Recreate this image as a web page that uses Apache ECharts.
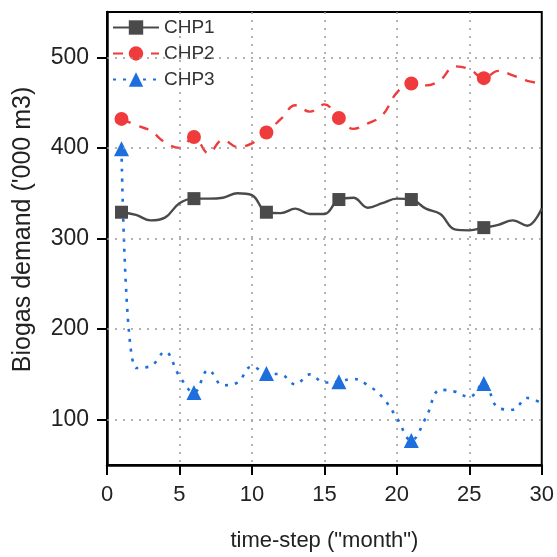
<!DOCTYPE html>
<html><head><meta charset="utf-8">
<script src="https://cdn.jsdelivr.net/npm/echarts@6/dist/echarts.min.js"></script>
<style>html,body{margin:0;padding:0;background:#fff}#c{width:557px;height:557px}</style>
</head><body><div id="c"></div>
<script>
const months = [1,2,3,4,5,6,7,8,9,10,11,12,13,14,15,16,17,18,19,20,21,22,23,24,25,26,27,28,29,30];
const chp1 = [329,326,320,323,339,344,344,345,350,348,329,328,333,327,327,343,345,334,339,344,343,333,327,310,309,312,315,320,314,333];
const chp2 = [432,425,419,406,400,412,394,409,401,405,417,432,447,440,448,433,421,427,436,461,471,469,475,490,487,477,485,480,474,471];
const chp3 = [399,157,159,175,148,130,155,138,141,159,151,150,139,150,141,142,145,138,125,102,77,102,133,131,125,140,113,111,124,118];
const markerMonths = [1,6,11,16,21,26];
const yTicks = [100,200,300,400,500];

const font = 'Liberation Sans, Arial, sans-serif';
function mk(vals, size){ return months.map((m,i)=>({value:[m, vals[i]], symbolSize: markerMonths.includes(m) ? size : 0})); }
const chart = echarts.init(document.getElementById('c'), null, {renderer:'canvas'});
chart.setOption({
  animation:false,
  backgroundColor:'#fff',
  grid:{left:107,right:15,top:12,bottom:89,show:true,borderColor:'#000',borderWidth:2,backgroundColor:'transparent'},
  legend:{
    left:112, top:18, padding:0, orient:'vertical', itemGap:7, itemWidth:46, itemHeight:18,
    textStyle:{fontFamily:font,fontSize:19,color:'#333'},
    data:['CHP1','CHP2','CHP3']
  },
  xAxis:{
    type:'value', min:0, max:30, interval:5,
    name:'time-step ("month")', nameLocation:'middle', nameGap:65,
    nameTextStyle:{fontFamily:font,fontSize:22,color:'#222'},
    axisLine:{show:true,lineStyle:{color:'#000',width:2.5}},
    axisTick:{show:true,inside:false,length:10,lineStyle:{color:'#000',width:2}},
    axisLabel:{fontFamily:font,fontSize:22,color:'#222',margin:19},
    splitLine:{show:true,showMinLine:false,showMaxLine:false,lineStyle:{color:'#999',type:[2,6],width:1.5}}
  },
  yAxis:{
    type:'value', min:50, max:550, interval:50,
    name:"Biogas demand ('000 m3)", nameLocation:'middle', nameGap:71,
    nameTextStyle:{fontFamily:font,fontSize:25,color:'#222',padding:[0,0,0,18]},
    axisLine:{show:true,lineStyle:{color:'#000',width:2.5}},
    axisTick:{show:true,inside:false,length:10,customValues:yTicks,lineStyle:{color:'#000',width:2}},
    axisLabel:{fontFamily:font,fontSize:23,color:'#222',margin:18,customValues:yTicks},
    splitLine:{show:false}
  },
  series:[
    {name:'CHP1',type:'line',data:mk(chp1,13),smooth:0.4,symbol:'rect',
     itemStyle:{color:'#4a4a4a'},lineStyle:{color:'#4a4a4a',width:2.4,type:'solid'},
     markLine:{silent:true,symbol:'none',label:{show:false},
       lineStyle:{color:'#999',type:[2,6],width:1.5},
       data:yTicks.map(v=>({yAxis:v}))}},
    {name:'CHP2',type:'line',data:mk(chp2,14),smooth:0.4,symbol:'circle',
     itemStyle:{color:'#ef3b3b'},lineStyle:{color:'#ef3b3b',width:2.4,type:[10,9]}},
    {name:'CHP3',type:'line',data:mk(chp3,15),smooth:0.4,symbol:'triangle',
     itemStyle:{color:'#1c6fdc'},lineStyle:{color:'#1c6fdc',width:2.6,type:[3,7]}}
  ]
});
</script></body></html>
